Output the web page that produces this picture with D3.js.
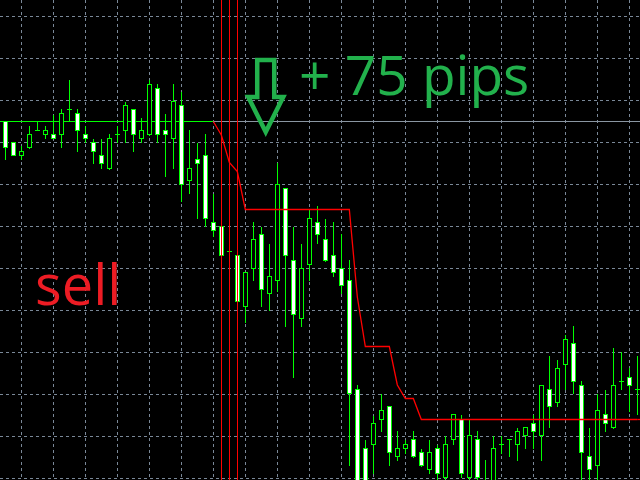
<!DOCTYPE html>
<html><head><meta charset="utf-8">
<script src="https://cdn.jsdelivr.net/npm/d3@7/dist/d3.min.js"></script>
<style>html,body{margin:0;padding:0;background:#000;overflow:hidden}svg{display:block}</style>
</head><body>
<svg id="chart" width="640" height="480"></svg>
<script>
// ---- data (bar index = position on chart) ----
const open = [
1.30717,1.30675,1.30649,1.30665,1.30700,1.30691,1.30692,1.30691,1.30741,1.30733,
1.30691,1.30675,1.30649,1.30623,1.30692,1.30699,1.30741,1.30683,1.30691,1.30783,
1.30699,1.30683,1.30749,1.30599,1.30641,1.30650,1.30515,1.30507,1.30457,1.30449,
1.30348,1.30423,1.30491,1.30373,1.30399,1.30583,1.30439,1.30323,1.30431,1.30515,
1.30481,1.30449,1.30423,1.30399,1.30181,1.30063,1.30071,1.30121,1.30147,1.30047,
1.30063,1.30081,1.30055,1.30021,1.30063,1.30005,1.30081,1.30121,1.30005,1.30081,
1.29988,1.29996,1.30071,1.30081,1.30071,1.30089,1.30113,1.30089,1.30181,1.30155,
1.30231,1.30273,1.30189,1.30048,1.30029,1.30131,1.30105,1.30197,1.30205,1.30181];
const close = [
1.30665,1.30649,1.30657,1.30692,1.30700,1.30700,1.30683,1.30733,1.30741,1.30699,
1.30683,1.30657,1.30633,1.30683,1.30692,1.30749,1.30691,1.30699,1.30792,1.30691,
1.30691,1.30757,1.30591,1.30623,1.30633,1.30523,1.30500,1.30449,1.30457,1.30357,
1.30415,1.30481,1.30381,1.30408,1.30591,1.30449,1.30332,1.30423,1.30523,1.30491,
1.30439,1.30415,1.30390,1.30173,1.29992,1.29992,1.30113,1.30140,1.30055,1.30063,
1.30071,1.30047,1.30029,1.30055,1.30013,1.30071,1.30131,1.30013,1.30089,1.30005,
1.29976,1.30063,1.30071,1.30081,1.30097,1.30105,1.30097,1.30189,1.30147,1.30223,
1.30281,1.30197,1.30055,1.30021,1.30140,1.30113,1.30189,1.30197,1.30189,1.30181];
const high = [
1.30718,1.30676,1.30669,1.30708,1.30717,1.30708,1.30730,1.30742,1.30800,1.30742,
1.30708,1.30683,1.30683,1.30692,1.30708,1.30757,1.30741,1.30725,1.30801,1.30792,
1.30733,1.30792,1.30777,1.30700,1.30675,1.30692,1.30573,1.30516,1.30470,1.30456,
1.30416,1.30516,1.30507,1.30473,1.30634,1.30584,1.30507,1.30473,1.30541,1.30549,
1.30523,1.30516,1.30493,1.30440,1.30190,1.30081,1.30129,1.30173,1.30148,1.30098,
1.30080,1.30098,1.30063,1.30081,1.30071,1.30089,1.30131,1.30131,1.30121,1.30098,
1.30040,1.30089,1.30089,1.30081,1.30105,1.30105,1.30131,1.30189,1.30248,1.30240,
1.30290,1.30308,1.30198,1.30105,1.30173,1.30181,1.30265,1.30256,1.30225,1.30248];
const low = [
1.30641,1.30648,1.30640,1.30663,1.30700,1.30683,1.30683,1.30665,1.30717,1.30657,
1.30675,1.30633,1.30623,1.30621,1.30675,1.30675,1.30657,1.30675,1.30688,1.30675,
1.30607,1.30623,1.30557,1.30573,1.30522,1.30507,1.30487,1.30436,1.30444,1.30350,
1.30315,1.30399,1.30347,1.30339,1.30377,1.30307,1.30205,1.30307,1.30399,1.30473,
1.30437,1.30407,1.30373,1.30029,1.29980,1.29980,1.30013,1.30097,1.30029,1.30038,
1.30053,1.30045,1.30027,1.30013,1.29998,1.29998,1.30071,1.30005,1.29998,1.29998,
1.29970,1.29992,1.30053,1.30047,1.30039,1.30063,1.30063,1.30039,1.30105,1.30147,
1.30181,1.30173,1.29998,1.29998,1.29998,1.30097,1.30103,1.30181,1.30137,1.30131];
// trailing stop (red step line), starts at bar 26
const stopLine = [
null,null,null,null,null,null,null,null,null,null,
null,null,null,null,null,null,null,null,null,null,
null,null,null,null,null,null,1.30717,1.30690,1.30635,1.30617,
1.30541,1.30541,1.30541,1.30541,1.30541,1.30541,1.30541,1.30541,1.30541,1.30541,
1.30541,1.30541,1.30541,1.30541,1.30366,1.30267,1.30267,1.30267,1.30267,1.30190,
1.30163,1.30163,1.30121,1.30121,1.30121,1.30121,1.30121,1.30121,1.30121,1.30121,
1.30121,1.30121,1.30121,1.30121,1.30121,1.30121,1.30121,1.30121,1.30121,1.30121,
1.30121,1.30121,1.30121,1.30121,1.30121,1.30121,1.30121,1.30121,1.30121,1.30121];
const entryPrice = 1.30717;
const entryBar = 26;
const markerBars = [27, 28, 29];
const gridPrices = [1.30927,1.30843,1.30759,1.30675,1.30591,1.30507,1.30423,1.30339,1.30255,1.30171,1.30087,1.30003];
const gridBars = [2,6,10,14,18,22,26,30,34,38,42,46,50,54,58,62,66,70,74,78];
const labelPips = "+ 75 pips";
const labelSell = "sell";

// ---- drawing ----
const W = 640, H = 480;
const svg = d3.select("#chart");
const x = d3.scaleLinear().domain([0, 79]).range([5.33, 637.33]);
const y = d3.scaleLinear().domain([1.30000, 1.30960]).range([H, 0]);
const GRID = "#7a8898", LIME = "#00ff00", RED = "#ff0000", PAINT_GREEN = "#22b14c";

svg.append("rect").attr("width", W).attr("height", H).attr("fill", "#000");

const g = svg.append("g").attr("shape-rendering", "crispEdges");
// grid
g.selectAll("line.gh").data(gridPrices).join("line").attr("class","gh")
  .attr("x1", 0).attr("x2", W).attr("y1", d => y(d)).attr("y2", d => y(d))
  .attr("stroke", GRID).attr("stroke-width", 1).attr("stroke-dasharray", "3,3");
g.selectAll("line.gv").data(gridBars).join("line").attr("class","gv")
  .attr("x1", d => x(d)).attr("x2", d => x(d)).attr("y1", 0).attr("y2", H)
  .attr("stroke", GRID).attr("stroke-width", 1).attr("stroke-dasharray", "3,3");

// entry line (gray full, green up to entry bar)
g.append("line").attr("x1", 0).attr("x2", W).attr("y1", y(entryPrice)).attr("y2", y(entryPrice))
  .attr("stroke", "#8a96a2").attr("stroke-width", 1);
g.append("line").attr("x1", 0).attr("x2", x(entryBar)).attr("y1", y(entryPrice)).attr("y2", y(entryPrice))
  .attr("stroke", LIME).attr("stroke-width", 1);

// candles
const idx = d3.range(open.length);
const cg = g.append("g");
cg.selectAll("line.wick").data(idx).join("line").attr("class","wick")
  .attr("x1", i => x(i)).attr("x2", i => x(i))
  .attr("y1", i => y(high[i])).attr("y2", i => y(low[i]))
  .attr("stroke", LIME).attr("stroke-width", 1);
const bodies = idx.filter(i => open[i] !== close[i]);
const dojis = idx.filter(i => open[i] === close[i]);
cg.selectAll("rect.body").data(bodies).join("rect").attr("class","body")
  .attr("x", i => x(i) - 2).attr("width", 4)
  .attr("y", i => y(Math.max(open[i], close[i])))
  .attr("height", i => Math.abs(y(open[i]) - y(close[i])))
  .attr("fill", i => close[i] < open[i] ? "#ffffff" : "#000000")
  .attr("stroke", LIME).attr("stroke-width", 1);
cg.selectAll("line.doji").data(dojis).join("line").attr("class","doji")
  .attr("x1", i => x(i) - 2.5).attr("x2", i => x(i) + 2.5)
  .attr("y1", i => y(open[i])).attr("y2", i => y(open[i]))
  .attr("stroke", LIME).attr("stroke-width", 1);

// red vertical markers
g.selectAll("line.mk").data(markerBars).join("line").attr("class","mk")
  .attr("x1", d => x(d)).attr("x2", d => x(d)).attr("y1", 0).attr("y2", H)
  .attr("stroke", RED).attr("stroke-width", 1);

// trailing stop line
const stopPts = idx.filter(i => stopLine[i] !== null);
const lineGen = d3.line().x(i => x(i)).y(i => y(stopLine[i]));
svg.append("path").datum(stopPts).attr("d", lineGen)
  .attr("fill", "none").attr("stroke", RED).attr("stroke-width", 1.3);
svg.append("line").attr("x1", x(79)).attr("x2", W)
  .attr("y1", y(stopLine[79])).attr("y2", y(stopLine[79]))
  .attr("stroke", RED).attr("stroke-width", 1.3);

// arrow annotation (anchored to bar 32.55)
const ax = x(32.55);
const arrow = [[-8.5, 60], [8.5, 60], [8.5, 97], [17.5, 97], [0, 132], [-17.5, 97], [-8.5, 97]];
svg.append("path").attr("d", d3.line()(arrow.map(p => [ax + p[0], p[1]])) + "Z")
  .attr("fill", "none").attr("stroke", PAINT_GREEN).attr("stroke-width", 4.5)
  .attr("stroke-linejoin", "miter").attr("stroke-miterlimit", 3);

// labels
svg.append("text").attr("x", 299).attr("y", 95).text(labelPips)
  .attr("font-family", "'Open Sans', sans-serif").attr("font-size", 55)
  .attr("fill", PAINT_GREEN);
svg.append("text").attr("x", 35).attr("y", 305).text(labelSell)
  .attr("font-family", "'Open Sans', sans-serif").attr("font-size", 56)
  .attr("fill", "#ed1c24");
</script>
</body></html>
